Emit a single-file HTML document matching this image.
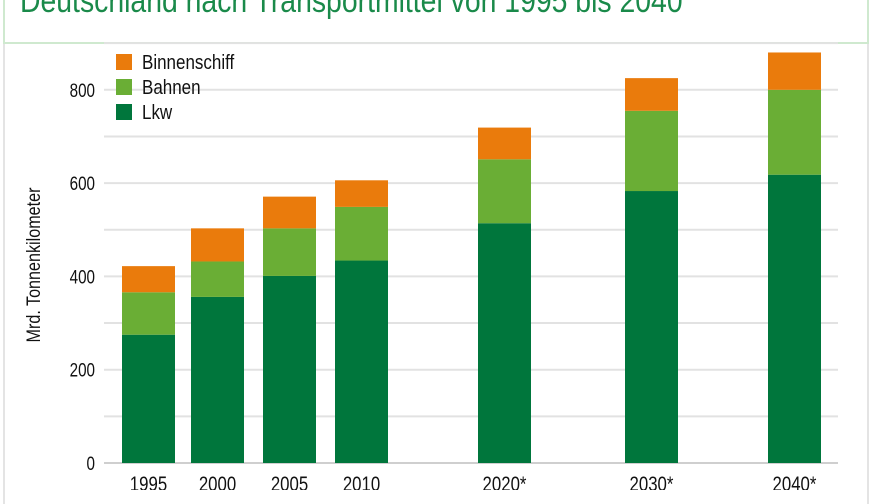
<!DOCTYPE html>
<html><head><meta charset="utf-8"><style>
html,body{margin:0;padding:0;background:#fff;}
body{width:870px;height:490px;overflow:hidden;position:relative;font-family:"Liberation Sans",sans-serif;}
#frame{position:absolute;left:3px;top:-2px;width:862px;height:44px;border:2px solid #cfe9cf;border-top:none;}
#frame2{position:absolute;left:3px;top:44px;width:862px;height:460px;border-left:2px solid #e4e4e4;border-right:2px solid #e4e4e4;}
#title{position:absolute;left:20px;top:-18px;font-size:33px;color:#1a8a4a;white-space:nowrap;transform:scaleX(0.86);transform-origin:left top;}
</style></head><body>
<div id="frame"></div>
<div id="frame2"></div>
<div id="title">Deutschland nach Transportmittel von 1995 bis 2040</div>
<svg id="chart" width="870" height="490" style="position:absolute;left:0;top:0"></svg>
<script>
const categories=["1995","2000","2005","2010","2020*","2030*","2040*"];
const lkw=[275,356,401,434,514,583,618];
const bahnen=[91,76,102,115,137,172,182];
const binnen=[56,71,68,57,68,70,80];
const yTicks=[0,200,400,600,800];
const seriesNames=["Binnenschiff","Bahnen","Lkw"];
const colors={Lkw:"#00763c",Bahnen:"#6aae35",Binnenschiff:"#ea7b0c"};
const barX=[122,191,263,335,478,625,768];
const barW=53;
const y=v=>463-v*0.4665;
const svg=document.getElementById('chart');
const NS="http://www.w3.org/2000/svg";
function mk(t,a){const e=document.createElementNS(NS,t);for(const k in a)e.setAttribute(k,a[k]);svg.appendChild(e);return e;}
for(let v=0;v<=900;v+=100){
 const g=mk('line',{x1:104,x2:838,y1:y(v),y2:y(v),stroke:v===0?'#cfcfcf':'#e2e2e2','stroke-width':2});
 
 
}
yTicks.forEach(v=>{
 const t=mk('text',{x:95,y:y(v)+7,'text-anchor':'end','font-size':19,fill:'#111',transform:`translate(${95*0.2},0) scale(0.8,1)`});
 t.setAttribute('transform',`scale(0.8,1)`);t.setAttribute('x',95/0.8);
 t.textContent=v;
 
 
});
categories.forEach((c,i)=>{
 let base=0;
 [[lkw,'Lkw'],[bahnen,'Bahnen'],[binnen,'Binnenschiff']].forEach(([arr,n])=>{
  const v=arr[i];
  const r=mk('rect',{x:barX[i],y:y(base+v),width:barW,height:y(base)-y(base+v),fill:colors[n]});
  
  
  base+=v;
 });
 const t=mk('text',{x:(barX[i]+barW/2)/0.8,y:491,'text-anchor':'middle','font-size':21,fill:'#111',transform:'scale(0.8,1)'});
 t.textContent=c;
 
 
});
seriesNames.forEach((n,i)=>{
 const ly=54+i*25;
 const r=mk('rect',{x:116,y:ly,width:16,height:16,fill:colors[n]});
 
 
 const t=mk('text',{x:142/0.85,y:ly+15,'font-size':20,fill:'#111',transform:'scale(0.85,1)'});
 t.textContent=n;
 
 
});
const yl=mk('text',{x:0,y:0,'font-size':19,fill:'#111','text-anchor':'middle',transform:'translate(40,265) rotate(-90) scale(0.85,1)'});
yl.textContent="Mrd. Tonnenkilometer";


</script>
</body></html>
